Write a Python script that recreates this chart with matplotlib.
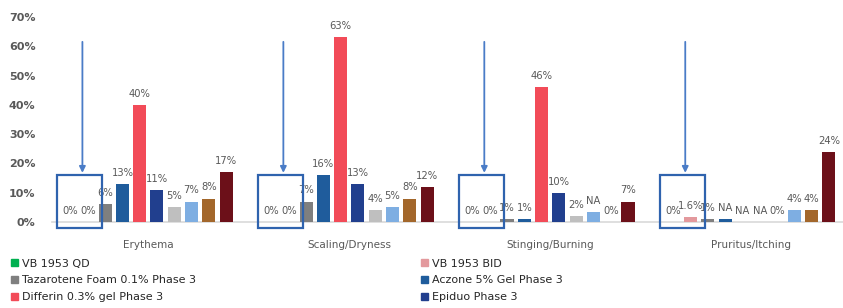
import matplotlib
matplotlib.use('Agg')
import matplotlib.pyplot as plt
from matplotlib.patches import Rectangle, Patch
import numpy as np

# %%
categories = ['Erythema', 'Scaling/Dryness', 'Stinging/Burning', 'Pruritus/Itching']
series_names = ['VB 1953 QD', 'VB 1953 BID', 'Tazarotene Foam 0.1% Phase 3',
                'Aczone 5% Gel Phase 3', 'Differin 0.3% gel Phase 3', 'Epiduo Phase 3',
                'Series 7', 'Series 8', 'Series 9', 'Series 10']
colors = ['#00B050', '#E3999D', '#7F7F7F', '#1F5C9C', '#F24B58', '#213F8E',
          '#BFBFBF', '#7EAEE2', '#A3672B', '#6C1019']

vb_qd = [0, 0, 0, 0]
vb_bid = [0, 0, 0, 1.6]
tazarotene = [6, 7, 1, 1]
aczone = [13, 16, 1, 1]
differin = [40, 63, 46, 0]
epiduo = [11, 13, 10, 0]
series7 = [5, 4, 2, 0]
series8 = [7, 5, 3.5, 4]
series9 = [8, 8, 0, 4]
series10 = [17, 12, 7, 24]
values = [vb_qd, vb_bid, tazarotene, aczone, differin, epiduo,
          series7, series8, series9, series10]

labels = [
    ['0%', '0%', '0%', '0%'],
    ['0%', '0%', '0%', '1.6%'],
    ['6%', '7%', '1%', '1%'],
    ['13%', '16%', '1%', 'NA'],
    ['40%', '63%', '46%', 'NA'],
    ['11%', '13%', '10%', 'NA'],
    ['5%', '4%', '2%', '0%'],
    ['7%', '5%', 'NA', '4%'],
    ['8%', '8%', '0%', '4%'],
    ['17%', '12%', '7%', '24%'],
]

# %%
fig = plt.figure(figsize=(8.43, 3.08), dpi=100)
ax = fig.add_axes([0.062, 0.279, 0.938, 0.666])

x = np.arange(len(categories))
pitch = 0.086
width = 0.065
txt_col = '#595959'

for i, (vals, col) in enumerate(zip(values, colors)):
    pos = x + (i - 4.5) * pitch
    ax.bar(pos, vals, width=width, color=col, label=series_names[i], zorder=3)
    for p, v, lab in zip(pos, vals, labels[i]):
        ax.text(p, v + 3.8, lab, ha='center', va='center', fontsize=7.2,
                color=txt_col, zorder=4)

# boxes around the VB 1953 bars and arrows pointing at them
for c in x:
    ax.add_patch(Rectangle((c - 0.453, -2), 0.224, 18, fill=False,
                           edgecolor='#2F63AE', linewidth=1.6, clip_on=False, zorder=5))
    ax.annotate('', xy=(c - 0.328, 16.8), xytext=(c - 0.328, 61.5),
                arrowprops=dict(arrowstyle='-|>', color='#4A7CC7', lw=1.3,
                                mutation_scale=9, shrinkA=0, shrinkB=0),
                annotation_clip=False)

ax.set_xlim(-0.478, 3.457)
ax.set_ylim(0, 70)
ax.set_yticks(np.arange(0, 71, 10))
ax.set_yticklabels([f'{t}%' for t in range(0, 71, 10)], fontsize=8,
                   fontweight='bold', color=txt_col)
ax.set_xticks(x)
ax.set_xticklabels(categories, fontsize=7.5, color=txt_col)
ax.tick_params(axis='y', length=0, pad=12)
ax.tick_params(axis='x', length=0, pad=13)
for s in ['top', 'right', 'left']:
    ax.spines[s].set_visible(False)
ax.spines['bottom'].set_color('#D9D9D9')
ax.spines['bottom'].set_linewidth(1.2)

# legend: only first six entries are visible in the picture
order = [0, 2, 4, 1, 3, 5]
handles = [Patch(color=colors[k], label=series_names[k]) for k in order]
fig.legend(handles=handles, loc='upper left', bbox_to_anchor=(0.013, 0.16),
           ncol=2, frameon=False, fontsize=8, handlelength=0.6, handleheight=0.6,
           handletextpad=0.35, columnspacing=20.3, labelspacing=0.6,
           borderaxespad=0, borderpad=0, labelcolor='#262626')

plt.savefig('out.png', dpi=100)
